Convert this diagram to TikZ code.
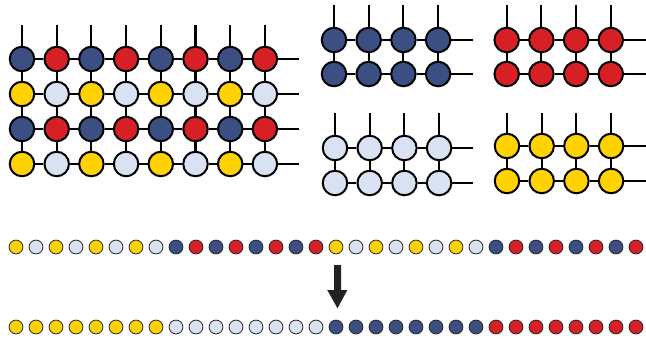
\documentclass[tikz,border=0pt]{standalone}
\definecolor{cblue}{HTML}{3B4F82}
\definecolor{cred}{HTML}{D71F26}
\definecolor{cyel}{HTML}{FFD200}
\definecolor{clight}{HTML}{D9E2F3}
\definecolor{carrow}{HTML}{222222}
\tikzset{
  big/.style={circle, draw=black, line width=1.5pt, minimum size=18.4pt, inner sep=0pt},
  dot/.style={circle, draw=black!85, line width=0.6pt, minimum size=10.4pt, inner sep=0pt},
  wire/.style={line width=1.6pt},
}
\newcommand\sgrid[6]{% name, x0, y-row0, y-row1, ytop, xend ; color = #6? handled below
}
\newcommand\smallgrid[7]{% #1 name, #2 x0, #3 y0, #4 y1, #5 ytop, #6 xend, #7 colour
  \foreach \i in {0,...,3}{
    \pgfmathsetmacro\xx{#2+34.7*\i}
    \node[big, fill=#7] (#1-0-\i) at (\xx,#3) {};
    \node[big, fill=#7] (#1-1-\i) at (\xx,#4) {};
    \coordinate (#1t-\i) at (\xx,#5);
    \draw[wire] (#1t-\i) -- (#1-0-\i);
    \draw[wire] (#1-0-\i) -- (#1-1-\i);
  }
  \coordinate (#1e-0) at (#6,#3);
  \coordinate (#1e-1) at (#6,#4);
  \foreach \j in {0,1}{
    \foreach \i [evaluate=\i as \k using int(\i+1)] in {0,1,2}{
      \draw[wire] (#1-\j-\i) -- (#1-\j-\k);
    }
    \draw[wire] (#1-\j-3) -- (#1e-\j);
  }
}
\begin{document}
\begin{tikzpicture}[x=0.75pt,y=-0.75pt]
\useasboundingbox (0,0) rectangle (646,346);
% big grid
\foreach \j/\ca/\cb in {0/cblue/cred,1/cyel/clight,2/cblue/cred,3/cyel/clight}{
  \foreach \i in {0,...,7}{
    \ifodd\i \edef\cc{\cb}\else\edef\cc{\ca}\fi
    \pgfmathsetmacro\xx{22+34.7*\i}
    \pgfmathsetmacro\yy{59+35*\j}
    \node[big, fill=\cc] (g-\j-\i) at (\xx,\yy) {};
  }
}
\foreach \i in {0,...,7}{
  \pgfmathsetmacro\xx{22+34.7*\i}
  \coordinate (gt-\i) at (\xx,25);
  \draw[wire] (gt-\i) -- (g-0-\i);
  \foreach \j [evaluate=\j as \k using int(\j+1)] in {0,1,2}{
    \draw[wire] (g-\j-\i) -- (g-\k-\i);
  }
}
\foreach \j in {0,...,3}{
  \pgfmathsetmacro\yy{59+35*\j}
  \coordinate (ge-\j) at (299,\yy);
  \foreach \i [evaluate=\i as \k using int(\i+1)] in {0,...,6}{
    \draw[wire] (g-\j-\i) -- (g-\j-\k);
  }
  \draw[wire] (g-\j-7) -- (ge-\j);
}
% small grids
\smallgrid{b}{334}{40}{74}{5}{473}{cblue}
\smallgrid{r}{506.7}{40}{74}{5}{646}{cred}
\smallgrid{l}{335}{148}{183}{113}{473}{clight}
\smallgrid{y}{507}{146}{181}{113}{646}{cyel}
% bottom rows
\foreach \n in {0,...,31}{
  \pgfmathsetmacro\xx{16+20*\n}
  \pgfmathtruncatemacro\b{2*mod(int(\n/8),2)+mod(\n,2)}
  \edef\cc{\ifcase\b cyel\or clight\or cblue\or cred\fi}
  \node[dot, fill=\cc] (u-\n) at (\xx,247) {};
  \pgfmathtruncatemacro\c{int(\n/8)}
  \edef\cd{\ifcase\c cyel\or clight\or cblue\or cred\fi}
  \node[dot, fill=\cd] (s-\n) at (\xx,327) {};
}
% arrow
\fill[carrow] (334,265) -- (341,265) -- (341,290) -- (347.3,290) -- (337.5,308.3) -- (327.2,290) -- (334,290) -- cycle;
\end{tikzpicture}
\end{document}
